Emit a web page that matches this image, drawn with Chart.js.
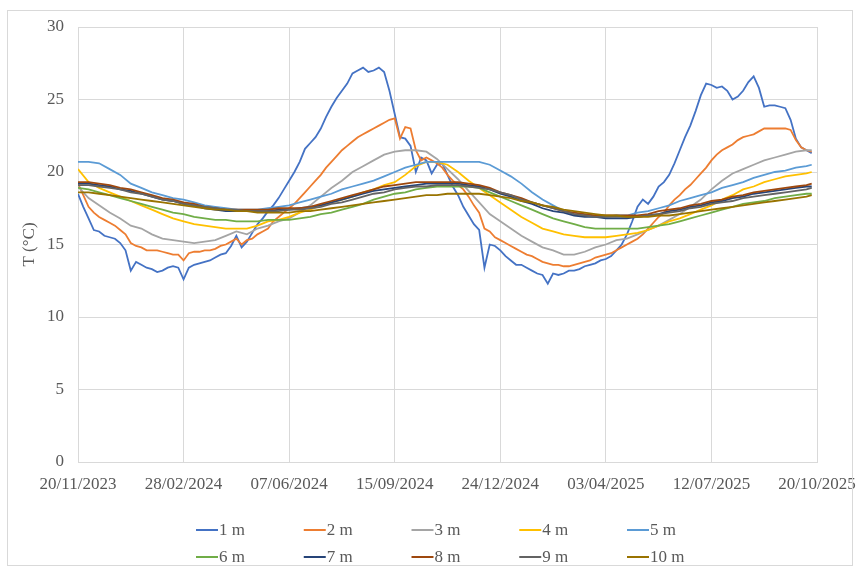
<!DOCTYPE html>
<html lang="en">
<head>
    <meta charset="UTF-8">
    <title>T (°C) profile</title>
    <style>
        body {
            margin: 0;
            background-color: white;
        }
        canvas {
            display: block;
        }
    </style>
    <script src="https://cdn.jsdelivr.net/npm/chart.js"></script>
</head>
<body>
    <canvas id="tempChart" width="861" height="568"></canvas>

    <script>
        // day offsets from 20/11/2023
        const fineDays = Array.from({ length: 140 }, (_, i) => i * 5);
        const coarseDays = Array.from({ length: 70 }, (_, i) => i * 10).concat([695]);

        const depthLabels = ['1 m', '2 m', '3 m', '4 m', '5 m', '6 m', '7 m', '8 m', '9 m', '10 m'];
        const depthColors = ['#4472C4', '#ED7D31', '#A5A5A5', '#FFC000', '#5B9BD5',
                             '#70AD47', '#264478', '#9E480E', '#636363', '#997300'];

        // 5-day readings
        const t1m = [
            18.5, 17.6, 16.8, 16.0, 15.9, 15.6, 15.5, 15.4, 15.1, 14.6,
            13.2, 13.8, 13.6, 13.4, 13.3, 13.1, 13.2, 13.4, 13.5, 13.4,
            12.6, 13.4, 13.6, 13.7, 13.8, 13.9, 14.1, 14.3, 14.4, 14.9,
            15.6, 14.8, 15.2, 15.8, 16.4, 16.8, 17.3, 17.7, 18.2, 18.8,
            19.4, 20.0, 20.7, 21.6, 22.0, 22.4, 23.0, 23.8, 24.5, 25.1,
            25.6, 26.1, 26.8, 27.0, 27.2, 26.9, 27.0, 27.2, 26.9, 25.6,
            24.0, 22.4, 22.3, 21.8, 20.0, 21.0, 20.8, 19.9, 20.5, 20.6,
            19.8, 19.0, 18.4, 17.6, 17.0, 16.4, 16.0, 13.4, 15.0, 14.9,
            14.6, 14.2, 13.9, 13.6, 13.6, 13.4, 13.2, 13.0, 12.9, 12.3,
            13.0, 12.9, 13.0, 13.2, 13.2, 13.3, 13.5, 13.6, 13.7, 13.9,
            14.0, 14.2, 14.6, 15.0, 15.7, 16.6, 17.6, 18.1, 17.8, 18.3,
            19.0, 19.3, 19.8, 20.6, 21.5, 22.4, 23.2, 24.2, 25.3, 26.1,
            26.0, 25.8, 25.9, 25.6, 25.0, 25.2, 25.6, 26.2, 26.6, 25.8,
            24.5, 24.6, 24.6, 24.5, 24.4, 23.6, 22.3, 21.7, 21.5, 21.3
        ];
        const t2m = [
            19.2, 18.4, 17.6, 17.2, 16.9, 16.7, 16.5, 16.3, 16.0, 15.7,
            15.1, 14.9, 14.8, 14.6, 14.6, 14.6, 14.5, 14.4, 14.3, 14.3,
            13.9, 14.4, 14.5, 14.5, 14.6, 14.6, 14.7, 14.9, 15.0, 15.2,
            15.4, 15.0, 15.3, 15.4, 15.7, 15.9, 16.1, 16.6, 16.9, 17.2,
            17.5, 17.8, 18.2, 18.6, 19.0, 19.4, 19.8, 20.3, 20.7, 21.1,
            21.5, 21.8, 22.1, 22.4, 22.6, 22.8, 23.0, 23.2, 23.4, 23.6,
            23.7, 22.3, 23.1, 23.0, 21.5, 20.8, 21.0, 20.8, 20.6, 20.3,
            19.8, 19.4, 19.1, 18.8, 18.3, 17.7, 17.2, 16.1, 15.9, 15.5,
            15.3, 15.1, 14.9, 14.7, 14.5, 14.3, 14.2, 14.0, 13.8, 13.7,
            13.6, 13.6, 13.5, 13.5, 13.6, 13.7, 13.8, 13.9, 14.1, 14.2,
            14.3, 14.4, 14.6, 14.8, 15.0, 15.2, 15.4, 15.7, 16.1, 16.5,
            16.9, 17.2, 17.7, 18.1, 18.4, 18.8, 19.1, 19.5, 19.9, 20.3,
            20.8, 21.2, 21.5, 21.7, 21.9, 22.2, 22.4, 22.5, 22.6, 22.8,
            23.0, 23.0, 23.0, 23.0, 23.0, 22.9, 22.2, 21.7, 21.5, 21.4
        ];

        // 10-day readings
        const t3m = [
            19.0, 18.2, 17.7, 17.2, 16.8, 16.3, 16.1, 15.7, 15.4, 15.3,
            15.2, 15.1, 15.2, 15.3, 15.6, 15.9, 15.7, 16.1, 16.3, 16.6,
            16.8, 17.2, 17.7, 18.3, 18.9, 19.4, 20.0, 20.4, 20.8, 21.2,
            21.4, 21.5, 21.5, 21.4, 20.9, 20.2, 19.5, 18.7, 17.9, 17.1,
            16.6, 16.1, 15.6, 15.2, 14.8, 14.6, 14.3, 14.3, 14.5, 14.8,
            15.0, 15.3, 15.4, 15.7, 16.0, 16.3, 16.7, 17.1, 17.6, 18.1,
            18.8, 19.4, 19.9, 20.2, 20.5, 20.8, 21.0, 21.2, 21.4, 21.5,
            21.5
        ];
        const t4m = [
            20.2, 19.3, 18.9, 18.6, 18.3, 18.0, 17.7, 17.4, 17.1, 16.8,
            16.6, 16.4, 16.3, 16.2, 16.1, 16.1, 16.1, 16.3, 16.6, 16.7,
            16.9, 17.2, 17.4, 17.7, 17.9, 18.1, 18.3, 18.6, 18.8, 19.1,
            19.3, 19.8, 20.4, 20.7, 20.7, 20.5, 20.0, 19.4, 18.9, 18.4,
            17.9, 17.4, 16.9, 16.5, 16.1, 15.9, 15.7, 15.6, 15.5, 15.5,
            15.5, 15.6, 15.7, 15.8, 16.0, 16.3, 16.6, 16.8, 17.1, 17.4,
            17.7, 18.1, 18.4, 18.8, 19.0, 19.3, 19.5, 19.7, 19.8, 19.9,
            20.0
        ];
        const t5m = [
            20.7, 20.7, 20.6, 20.2, 19.8, 19.2, 18.9, 18.6, 18.4, 18.2,
            18.1, 17.9, 17.7, 17.6, 17.5, 17.4, 17.4, 17.4, 17.5, 17.6,
            17.7, 17.9, 18.1, 18.3, 18.5, 18.8, 19.0, 19.2, 19.4, 19.7,
            20.0, 20.3, 20.5, 20.7, 20.7, 20.7, 20.7, 20.7, 20.7, 20.5,
            20.1, 19.7, 19.2, 18.6, 18.1, 17.7, 17.3, 17.1, 17.0, 16.9,
            16.9, 17.0, 17.0, 17.2, 17.3, 17.5, 17.7, 18.0, 18.2, 18.4,
            18.6, 18.9, 19.1, 19.3, 19.6, 19.8, 20.0, 20.1, 20.3, 20.4,
            20.5
        ];
        const t6m = [
            18.9, 18.8, 18.6, 18.4, 18.2, 18.0, 17.8, 17.6, 17.4, 17.2,
            17.1, 16.9, 16.8, 16.7, 16.7, 16.6, 16.6, 16.6, 16.7, 16.7,
            16.7, 16.8, 16.9, 17.1, 17.2, 17.4, 17.6, 17.8, 18.1, 18.3,
            18.5, 18.6, 18.8, 18.9, 19.0, 19.0, 19.0, 19.0, 18.9, 18.6,
            18.3, 18.0, 17.7, 17.4, 17.1, 16.8, 16.6, 16.4, 16.2, 16.1,
            16.1, 16.1, 16.1, 16.1, 16.2, 16.3, 16.4, 16.6, 16.8, 17.0,
            17.2, 17.4, 17.6, 17.8, 17.9, 18.0, 18.2, 18.3, 18.4, 18.5,
            18.5
        ];
        const t7m = [
            19.2, 19.2, 19.1, 19.0, 18.8, 18.7, 18.5, 18.3, 18.1, 18.0,
            17.8, 17.7, 17.5, 17.4, 17.3, 17.3, 17.3, 17.3, 17.3, 17.4,
            17.4, 17.5, 17.6, 17.7, 17.9, 18.1, 18.3, 18.5, 18.7, 18.8,
            18.9, 19.0, 19.1, 19.2, 19.2, 19.2, 19.2, 19.1, 19.0, 18.8,
            18.5, 18.3, 18.0, 17.8, 17.5, 17.3, 17.2, 17.0, 16.9, 16.9,
            16.8, 16.8, 16.8, 16.9, 17.0, 17.1, 17.3, 17.4, 17.6, 17.7,
            17.9, 18.0, 18.2, 18.3, 18.5, 18.6, 18.7, 18.8, 18.9, 19.0,
            19.0
        ];
        const t8m = [
            19.3, 19.3, 19.2, 19.1, 18.9, 18.8, 18.6, 18.4, 18.2, 18.1,
            17.9, 17.8, 17.6, 17.5, 17.4, 17.4, 17.4, 17.4, 17.4, 17.5,
            17.5, 17.5, 17.6, 17.8, 18.0, 18.2, 18.4, 18.6, 18.8, 19.0,
            19.1, 19.2, 19.3, 19.3, 19.3, 19.3, 19.3, 19.2, 19.1, 18.9,
            18.6, 18.4, 18.2, 17.9, 17.7, 17.5, 17.3, 17.2, 17.1, 17.0,
            17.0, 17.0, 17.0, 17.0, 17.1, 17.3, 17.4, 17.5, 17.7, 17.8,
            18.0, 18.1, 18.3, 18.4, 18.6, 18.7, 18.8, 18.9, 19.0, 19.1,
            19.2
        ];
        const t9m = [
            19.1, 19.1, 19.0, 18.9, 18.8, 18.6, 18.5, 18.3, 18.1, 18.0,
            17.8, 17.7, 17.6, 17.5, 17.4, 17.4, 17.3, 17.3, 17.3, 17.3,
            17.4, 17.4, 17.5, 17.6, 17.8, 17.9, 18.1, 18.3, 18.5, 18.6,
            18.8, 18.9, 19.0, 19.0, 19.1, 19.1, 19.1, 19.0, 18.9, 18.8,
            18.6, 18.4, 18.1, 17.9, 17.7, 17.5, 17.3, 17.1, 17.0, 16.9,
            16.9, 16.9, 16.9, 16.9, 17.0, 17.1, 17.2, 17.3, 17.5, 17.6,
            17.8, 17.9, 18.0, 18.2, 18.3, 18.4, 18.5, 18.6, 18.7, 18.8,
            18.9
        ];
        const t10m = [
            18.6, 18.6, 18.5, 18.4, 18.3, 18.2, 18.1, 18.0, 17.9, 17.8,
            17.7, 17.6, 17.5, 17.4, 17.4, 17.3, 17.3, 17.2, 17.2, 17.2,
            17.2, 17.3, 17.3, 17.4, 17.5, 17.6, 17.7, 17.8, 17.9, 18.0,
            18.1, 18.2, 18.3, 18.4, 18.4, 18.5, 18.5, 18.5, 18.5, 18.4,
            18.3, 18.2, 18.0, 17.9, 17.7, 17.6, 17.4, 17.3, 17.2, 17.1,
            17.0, 17.0, 16.9, 16.9, 16.9, 17.0, 17.0, 17.1, 17.2, 17.3,
            17.4, 17.5, 17.6, 17.7, 17.8, 17.9, 18.0, 18.1, 18.2, 18.3,
            18.4
        ];

        const seriesDays = [fineDays, fineDays, coarseDays, coarseDays, coarseDays,
                            coarseDays, coarseDays, coarseDays, coarseDays, coarseDays];
        const seriesTemps = [t1m, t2m, t3m, t4m, t5m, t6m, t7m, t8m, t9m, t10m];

        function formatDay(offset) {
            const d = new Date(Date.UTC(2023, 10, 20) + offset * 86400000);
            const dd = String(d.getUTCDate()).padStart(2, '0');
            const mm = String(d.getUTCMonth() + 1).padStart(2, '0');
            return dd + '/' + mm + '/' + d.getUTCFullYear();
        }

        // outer frame + two-row legend under the axis
        const frameLegend = {
            id: 'frameLegend',
            beforeDraw(chart) {
                const ctx = chart.ctx;
                ctx.save();
                ctx.fillStyle = 'white';
                ctx.fillRect(0, 0, chart.width, chart.height);
                ctx.restore();
            },
            afterDraw(chart) {
                const ctx = chart.ctx;
                ctx.save();
                ctx.strokeStyle = '#d9d9d9';
                ctx.lineWidth = 1;
                ctx.strokeRect(7.5, 10.5, 845, 555);

                ctx.font = '17px "Liberation Serif", "Times New Roman", serif';
                ctx.textBaseline = 'middle';
                ctx.fillStyle = '#595959';
                chart.data.datasets.forEach((ds, i) => {
                    const x = 196 + (i % 5) * 107.75;
                    const y = 530 + Math.floor(i / 5) * 27;
                    ctx.strokeStyle = ds.borderColor;
                    ctx.lineWidth = 2;
                    ctx.beginPath();
                    ctx.moveTo(x, y);
                    ctx.lineTo(x + 22, y);
                    ctx.stroke();
                    ctx.fillText(ds.label, x + 23, y + 1);
                });
                ctx.restore();
            }
        };

        Chart.defaults.font.family = '"Liberation Serif", "Times New Roman", serif';
        Chart.defaults.font.size = 17;
        Chart.defaults.color = '#595959';

        const datasets = depthLabels.map((label, i) => ({
            label: label,
            data: seriesDays[i].map((d, j) => ({ x: d, y: seriesTemps[i][j] })),
            borderColor: depthColors[i],
            backgroundColor: depthColors[i],
            borderWidth: 1.8,
            pointRadius: 0,
            tension: 0,
            fill: false,
            order: depthLabels.length - i
        }));

        new Chart(document.getElementById('tempChart').getContext('2d'), {
            type: 'line',
            data: { datasets: datasets },
            options: {
                responsive: false,
                animation: false,
                events: [],
                layout: {
                    padding: { left: 0, top: 27, right: 44, bottom: 0 }
                },
                plugins: {
                    legend: { display: false },
                    tooltip: { enabled: false }
                },
                scales: {
                    x: {
                        type: 'linear',
                        min: 0,
                        max: 700,
                        grid: { color: '#d9d9d9', drawTicks: false },
                        border: { color: '#d9d9d9' },
                        ticks: {
                            stepSize: 100,
                            autoSkip: false,
                            maxRotation: 0,
                            padding: 12,
                            callback: value => formatDay(value)
                        },
                        afterFit: scale => {
                            scale.height = 106;
                            scale.paddingLeft = 0;
                            scale.paddingRight = 0;
                        }
                    },
                    y: {
                        min: 0,
                        max: 30,
                        grid: { color: '#d9d9d9', drawTicks: false },
                        border: { color: '#d9d9d9' },
                        ticks: { stepSize: 5, padding: 14 },
                        title: {
                            display: true,
                            text: 'T (°C)',
                            padding: { top: 19, bottom: 0 }
                        },
                        afterFit: scale => { scale.width = 78; }
                    }
                }
            },
            plugins: [frameLegend]
        });
    </script>
</body>
</html>
